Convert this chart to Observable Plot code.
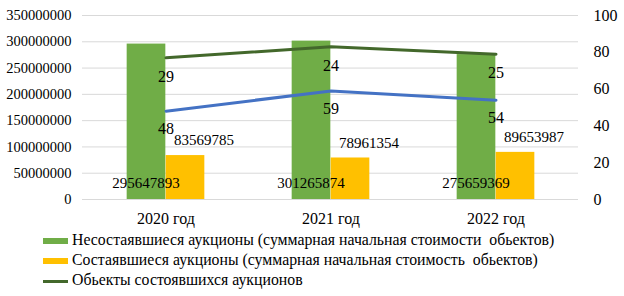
<!DOCTYPE html>
<html><head><meta charset="utf-8">
<script src="https://cdn.jsdelivr.net/npm/d3@7"></script>
<script src="https://cdn.jsdelivr.net/npm/@observablehq/plot@0.6"></script>
<style>
body{margin:0;background:#fff;font-family:'Liberation Serif',serif;}
#wrap{position:relative;width:624px;height:296px;}
svg text{font-family:'Liberation Serif',serif !important;}
.leg{position:absolute;left:43px;font-size:15.8px;color:#000;white-space:pre;line-height:18px;font-family:'Liberation Serif',serif;}
.sw{display:inline-block;width:25px;vertical-align:middle;margin-right:4px;}
</style></head><body>
<div id="wrap"></div>
<script>
const years = ["2020 год", "2021 год", "2022 год"];
const failedSum = [295647893, 301265874, 275659369];   // green bars
const heldSum = [83569785, 78961354, 89653987];        // orange bars
const blueCount = [48, 59, 54];                        // blue line (right axis)
const heldObjects = [29, 24, 25];                      // dark green line, stacked on blue
const leftTicks = [0, 50000000, 100000000, 150000000, 200000000, 250000000, 300000000, 350000000];
const rightTicks = [0, 20, 40, 60, 80, 100];
const legendLabels = [
  "Несостаявшиеся аукционы (суммарная начальная стоимости  обьектов)",
  "Состаявшиеся аукционы (суммарная начальная стоимость  обьектов)",
  "Обьекты состоявшихся аукционов"
];
const colors = {green: "#70ad47", orange: "#ffc000", dark: "#43682b", blue: "#4472c4"};

const k = 350000000 / 100; // right axis -> left axis
const rows = years.map((y, i) => ({
  year: y, failed: failedSum[i], held: heldSum[i],
  blue: blueCount[i], obj: heldObjects[i],
  blueY: blueCount[i] * k, stackY: (blueCount[i] + heldObjects[i]) * k
}));

const W = 624, H = 232;
const bw = (578 - 82) / 3;
const barW = 39;
const fmt = d3.format("d");
const FF = "'Liberation Serif', serif";

const chart = Plot.plot({
  width: W, height: H,
  marginLeft: 82, marginRight: 46, marginTop: 15, marginBottom: 33,
  style: {fontFamily: FF, fontSize: "15px", color: "#000", background: "#fff"},
  x: {type: "band", domain: years, padding: 0, label: null},
  y: {domain: [0, 350000000], label: null},
  marks: [
    Plot.gridY(leftTicks, {stroke: "#d9d9d9", strokeOpacity: 1, strokeWidth: 1}),
    Plot.barY(rows, {x: "year", y: "failed", fill: colors.green, insetLeft: bw / 2 - barW, insetRight: bw / 2}),
    Plot.barY(rows, {x: "year", y: "held", fill: colors.orange, insetLeft: bw / 2, insetRight: bw / 2 - barW}),
    Plot.lineY(rows, {x: "year", y: "stackY", stroke: colors.dark, strokeWidth: 3}),
    Plot.lineY(rows, {x: "year", y: "blueY", stroke: colors.blue, strokeWidth: 3}),
    Plot.text(rows, {x: "year", y: "stackY", text: "obj", dy: 19, fill: "#000", fontFamily: FF, fontSize: 16}),
    Plot.text(rows, {x: "year", y: "blueY", text: "blue", dy: 18, fill: "#000", fontFamily: FF, fontSize: 16}),
    Plot.text(rows, {x: "year", y: "held", text: d => String(d.held), dx: 38, dy: -15, fill: "#000", fontFamily: FF, fontSize: 15}),
    Plot.text(rows, {x: "year", y: 0, text: d => String(d.failed), dx: -20, dy: -16, fill: "#000", fontFamily: FF, fontSize: 15}),
    Plot.axisY(leftTicks, {anchor: "left", tickSize: 0, tickPadding: 11, tickFormat: fmt, label: null, fontSize: 14.5, fontFamily: FF}),
    Plot.axisY(rightTicks.map(v => v * k), {anchor: "right", tickSize: 0, tickPadding: 15, tickFormat: d => fmt(d / k), label: null, fontSize: 16, fontFamily: FF}),
    Plot.axisX({tickSize: 0, tickPadding: 13, label: null, fontSize: 16, fontFamily: FF}),
    Plot.ruleY([0], {stroke: "#d9d9d9"})
  ]
});
const wrap = document.getElementById("wrap");
wrap.appendChild(chart);

const sw = [
  `<span class="sw" style="height:6px;background:${colors.green}"></span>`,
  `<span class="sw" style="height:6px;background:${colors.orange}"></span>`,
  `<span class="sw" style="height:3px;background:${colors.dark}"></span>`
];
const tops = [231, 251, 271];
legendLabels.forEach((t, i) => {
  const d = document.createElement("div");
  d.className = "leg";
  d.style.top = tops[i] + "px";
  d.innerHTML = sw[i] + t.replace(/&/g, "&amp;");
  wrap.appendChild(d);
});
</script>
</body></html>
